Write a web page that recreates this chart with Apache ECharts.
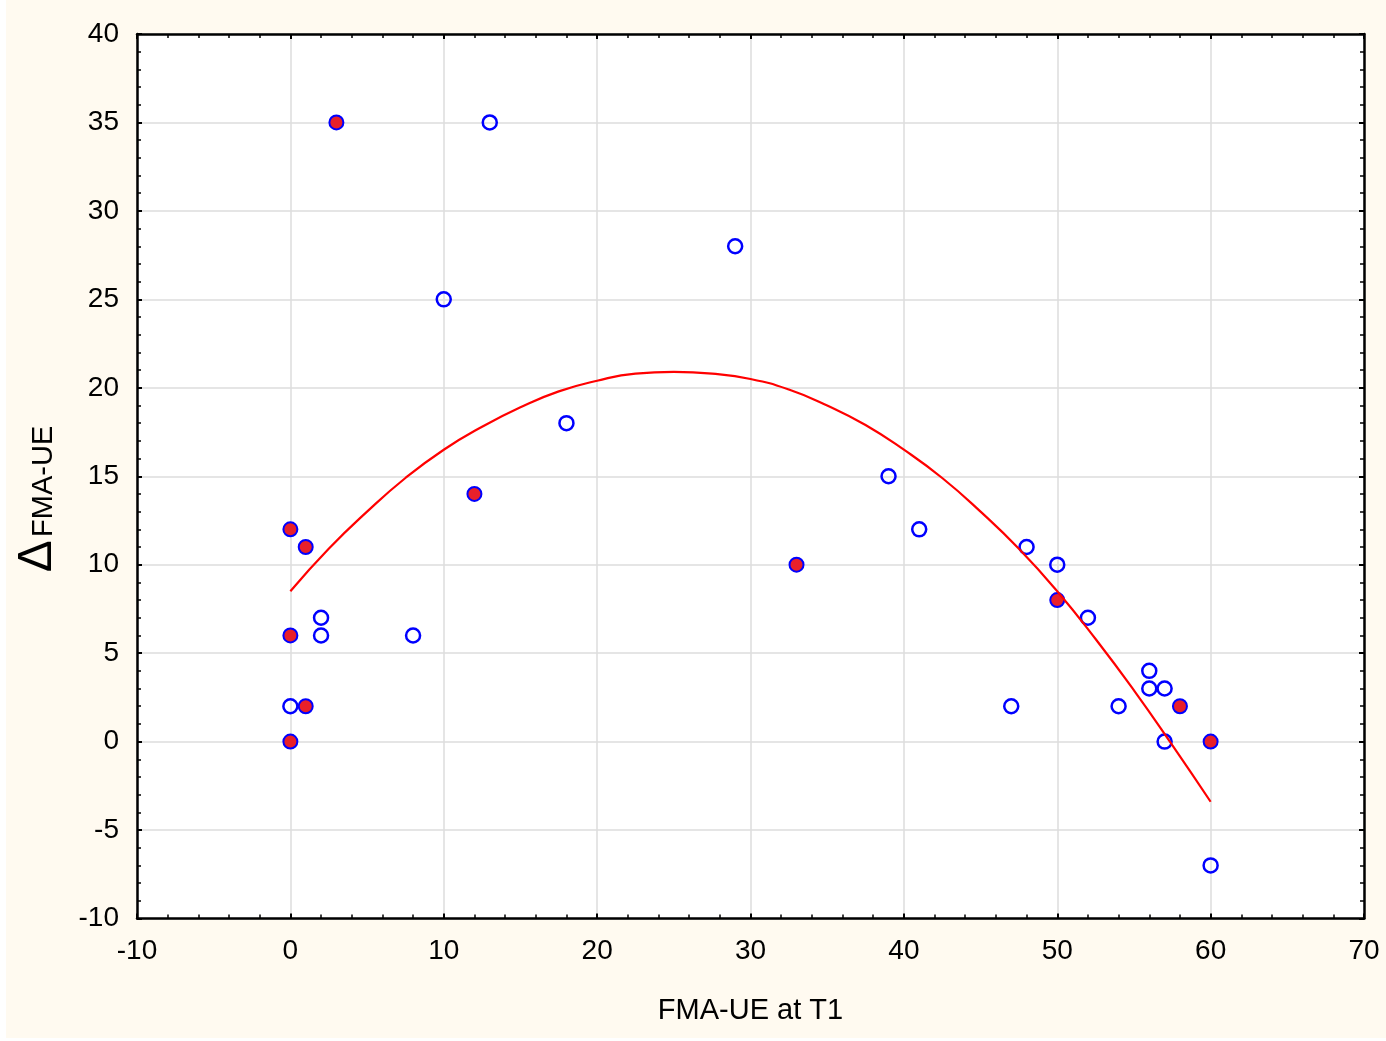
<!DOCTYPE html>
<html><head><meta charset="utf-8">
<script src="https://cdn.jsdelivr.net/npm/echarts@6/dist/echarts.min.js"></script>
<style>
html,body{margin:0;padding:0;background:#fff;width:1386px;height:1041px;overflow:hidden}
#c{position:absolute;left:6px;top:0;width:1380px;height:1038px;background:#FFFAF0}
</style>
</head><body><div id="c"></div>
<script>
// Axis ranges / tick steps
const xRange = [-10, 70], xStep = 10;
const yRange = [-10, 40], yStep = 5;

// Open (blue) points
const openX = [13, 10, 29, 18, 39, 41, 48, 50, 52, 2, 2, 8, 0, 47, 54, 56, 56, 57, 57, 60];
const openY = [35, 25, 28, 18, 15, 12, 11, 10, 7, 7, 6, 6, 2, 2, 2, 4, 3, 3, 0, -7];

// Filled (red) points
const filledX = [3, 0, 1, 12, 33, 0, 1, 0, 50, 58, 60];
const filledY = [35, 12, 11, 14, 10, 6, 2, 0, 8, 2, 0];

// Fitted curve
const fitX = [0, 2.5, 5, 7.5, 10, 12.5, 15, 17.5, 20, 22.5, 25, 27.5, 30, 32.5, 35, 37.5, 40, 42.5, 45, 47.5, 50, 52.5, 55, 57.5, 60];
const fitY = [8.5, 10.9, 13.0, 14.9, 16.5, 17.8, 18.9, 19.8, 20.4, 20.8, 20.9, 20.8, 20.5, 19.9, 19.0, 17.9, 16.5, 14.9, 13.0, 10.9, 8.5, 5.8, 2.9, -0.2, -3.4];

const zip = (a, b) => a.map((v, i) => [v, b[i]]);
const FONT = 'Liberation Sans, Arial, sans-serif';

function axisBase(range, step, minorSplit) {
  return {
    type: 'value', min: range[0], max: range[1], interval: step,
    axisLine: { show: true, onZero: false, lineStyle: { color: '#000', width: 2.5 } },
    axisTick: { show: true, inside: true, length: 5, lineStyle: { color: '#000', width: 2 } },
    minorTick: { show: true, splitNumber: minorSplit, length: 4, lineStyle: { color: '#000', width: 1.5 } },
    minorSplitLine: { show: false }
  };
}

const chart = echarts.init(document.getElementById('c'), null, { renderer: 'canvas' });
chart.setOption({
  animation: false,
  backgroundColor: '#FFFAF0',
  grid: { left: 131, right: 22, top: 34, bottom: 119.5, show: true, backgroundColor: '#fff', borderWidth: 0, containLabel: false },
  xAxis: [
    Object.assign(axisBase(xRange, xStep, 5), {
      position: 'bottom',
      splitLine: { show: true, lineStyle: { color: '#dcdcdc', width: 1.5 } },
      axisLabel: { fontSize: 28, color: '#000', margin: 19, fontFamily: FONT, showMinLabel: true, showMaxLabel: true },
      name: 'FMA-UE at T1', nameLocation: 'middle', nameGap: 78,
      nameTextStyle: { fontSize: 29, color: '#000', fontFamily: FONT }
    }),
    Object.assign(axisBase(xRange, xStep, 5), {
      position: 'top', axisLabel: { show: false }, splitLine: { show: false }
    })
  ],
  yAxis: [
    Object.assign(axisBase(yRange, yStep, 5), {
      position: 'left',
      splitLine: { show: true, lineStyle: { color: '#dcdcdc', width: 1.5 } },
      axisLabel: { fontSize: 28, color: '#000', margin: 18, fontFamily: FONT, showMinLabel: true, showMaxLabel: true }
    }),
    Object.assign(axisBase(yRange, yStep, 5), {
      position: 'right', axisLabel: { show: false }, splitLine: { show: false }
    })
  ],
  graphic: [{
    type: 'text', x: 30, y: 499, rotation: Math.PI / 2,
    style: {
      text: '{d|Δ} {t|FMA-UE}',
      align: 'center', verticalAlign: 'middle', fill: '#000',
      rich: {
        d: { fontSize: 48, fontFamily: FONT, lineHeight: 52, verticalAlign: 'bottom' },
        t: { fontSize: 29, fontFamily: FONT, lineHeight: 52, verticalAlign: 'bottom', padding: [0, 0, 4, 0] }
      }
    }
  }],
  series: [
    {
      type: 'scatter', name: 'open', data: zip(openX, openY),
      symbol: 'circle', symbolSize: 14,
      itemStyle: { color: 'transparent', borderColor: '#0000ff', borderWidth: 2.5, opacity: 1 },
      z: 3
    },
    {
      type: 'scatter', name: 'filled', data: zip(filledX, filledY),
      symbol: 'circle', symbolSize: 14,
      itemStyle: { color: '#e8202a', borderColor: '#0000ff', borderWidth: 2, opacity: 1 },
      z: 4
    },
    {
      type: 'line', name: 'fit', data: zip(fitX, fitY), smooth: 0.5,
      showSymbol: false, symbol: 'none',
      lineStyle: { color: '#ff0000', width: 2.2 },
      z: 5
    }
  ]
});
</script>
</body></html>
